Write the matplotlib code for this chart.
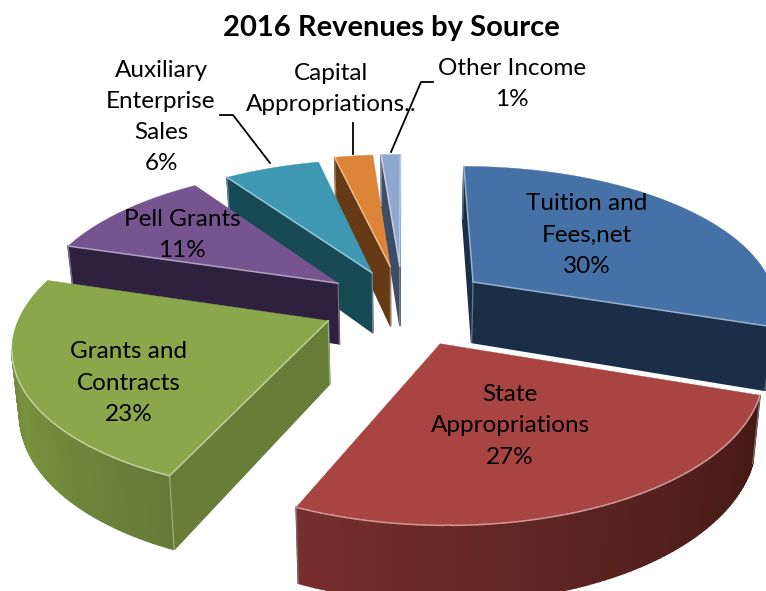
#!/usr/bin/env python3
"""2016 revenues by source: exploded 3D pie, drawn by hand since mplot3d has no pie."""
import matplotlib

matplotlib.use("Agg")
import matplotlib.pyplot as plt
import numpy as np
from matplotlib.colors import to_rgb

plt.rcParams["font.family"] = ["Lato", "DejaVu Sans"]

# data, clockwise from 12 o'clock
sources = ["Tuition and\nFees,net", "State\nAppropriations", "Grants and\nContracts",
           "Pell Grants", "Auxiliary\nEnterprise\nSales", "Capital\nAppropriations..",
           "Other Income"]
shares = [30.2, 26.4, 23.1, 10.7, 6.0, 2.4, 1.2]
pct_labels = ["30%", "27%", "23%", "11%", "6%", None, "1%"]
title = "2016 Revenues by Source"

# styles
top_colors = ["#4571a6", "#a84441", "#8aa74c", "#75548f", "#3f98b3", "#dc8438", "#90a8cf"]
cut_colors = ["#1a2e48", "#451a16", "#677d38", "#2e2140", "#174a55", "#653a14", "#3e4d66"]
side_colors = [
    ("#1a2e48", "#1a2e48", "#1a2e48"),
    ("#772f2c", "#5a2320", "#431814"),
    ("#657c38", "#78923f", "#647a37"),
    ("#2e2140", "#2e2140", "#2e2140"),
    ("#174a55", "#174a55", "#174a55"),
    ("#653a14", "#653a14", "#653a14"),
    ("#3e4d66", "#3e4d66", "#3e4d66"),
]
explode = [0.29, 0.29, 0.265, 0.27, 0.26, 0.29, 0.29]
label_xy = [(587, 235), (510, 426), (129, 383), (182, 235), (161, 117), (331, 89), (512, 84)]
leaders = [
    [(220, 115), (233, 115), (270, 163)],
    [(353, 123), (353, 154)],
    [(433, 82), (421, 82), (391, 152)],
]
draw_order = [6, 5, 4, 3, 0, 2, 1]

# view: pixels on screen, radius 1 pie
CX, CY = 403, 305
SCALE_X, SCALE_Y = 305, 140
PERSP = 0.155
HEIGHT = 62


def project(x, y, bottom=False):
    w = 1 + PERSP * y
    sx = SCALE_X * x / w
    sy = SCALE_Y * y / w
    if bottom:
        return CX + 0.98 * sx, CY - sy + HEIGHT / w
    return CX + sx, CY - sy


def mix(c0, c1, c2, f):
    a, b, c = map(np.array, (to_rgb(c0), to_rgb(c1), to_rgb(c2)))
    return a + (b - a) * f * 2 if f < 0.5 else b + (c - b) * (f - 0.5) * 2


def tint(color, amount=0.45):
    c = np.array(to_rgb(color))
    return c + (1 - c) * amount


def quad(ax, p, q, color, z):
    (x0, y0), (x1, y1) = project(*p), project(*q)
    (x2, y2), (x3, y3) = project(*q, True), project(*p, True)
    ax.fill([x0, x1, x2, x3], [y0, y1, y2, y3], color=color, lw=1.2, zorder=z)


def draw_slice(ax, i, t0, t1, z):
    mid = (t0 + t1) / 2
    ex, ey = explode[i] * np.sin(mid), explode[i] * np.cos(mid)
    t = np.linspace(t0, t1, max(int(np.degrees(t1 - t0)), 4))
    pts = [(ex + np.sin(a), ey + np.cos(a)) for a in t]
    apex = (ex, ey)

    # side walls first, only those facing the viewer (moving left when clockwise)
    ring = [apex] + pts + [apex]
    lines = []
    for k in range(len(ring) - 1):
        p, q = ring[k], ring[k + 1]
        if project(*q)[0] >= project(*p)[0]:
            continue
        radial = k == 0 or k == len(ring) - 2
        if radial:
            color = cut_colors[i]
        else:
            color = mix(*side_colors[i][::-1], k / (len(ring) - 2))
        quad(ax, p, q, color, z)
        lines.append((p, q))

    sx, sy = zip(*[project(*p) for p in ring])
    ax.fill(sx, sy, color=top_colors[i], lw=0.3, zorder=z + 0.1)

    # light bevel on the front edges
    for p, q in lines:
        (x0, y0), (x1, y1) = project(*p), project(*q)
        ax.plot([x0, x1], [y0, y1], color=tint(top_colors[i]), lw=1.1,
                solid_capstyle="round", zorder=z + 0.2)
    if lines:
        for p in (pts[0], pts[-1], apex):
            if any(p in pair for pair in lines):
                (x0, y0), (x1, y1) = project(*p), project(*p, True)
                ax.plot([x0, x1], [y0, y1], color=tint(cut_colors[i], 0.35), lw=0.9,
                        zorder=z + 0.15)


def main():
    fig = plt.figure(figsize=(7.66, 5.91), dpi=100)
    ax = fig.add_axes([0, 0, 1, 1])
    ax.set_xlim(0, 766)
    ax.set_ylim(591, 0)
    ax.axis("off")

    edges = np.radians(np.concatenate([[0], np.cumsum(shares)]) / sum(shares) * 360)
    for z, i in enumerate(draw_order):
        draw_slice(ax, i, edges[i], edges[i + 1], z + 1)

    for pts in leaders:
        xs, ys = zip(*pts)
        ax.plot(xs, ys, color="black", lw=1.3, zorder=20)

    for name, pct, (x, y) in zip(sources, pct_labels, label_xy):
        text = f"{name}\n{pct}" if pct else name
        ax.text(x, y, text, ha="center", va="center", fontsize=17.5,
                linespacing=1.6, color="black", zorder=21)
    ax.text(391, 28, title, ha="center", va="center", fontsize=21, fontweight="bold", zorder=21)

    fig.savefig("out.png", dpi=100)


if __name__ == "__main__":
    main()
